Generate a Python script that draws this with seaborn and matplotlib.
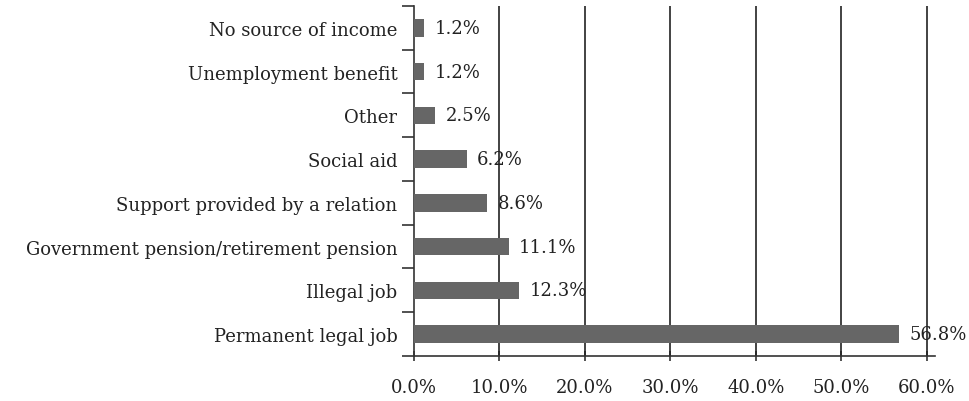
import matplotlib
matplotlib.use("Agg")
import matplotlib.pyplot as plt
import seaborn as sns
import pandas as pd
import numpy as np

sources = ["No source of income", "Unemployment benefit", "Other", "Social aid",
           "Support provided by a relation", "Government pension/retirement pension",
           "Illegal job", "Permanent legal job"]
shares = [1.2, 1.2, 2.5, 6.2, 8.6, 11.1, 12.3, 56.8]
xticks = [0, 10, 20, 30, 40, 50, 60]

df = pd.DataFrame({"source": sources, "share": shares})

sns.set_style("white")
plt.rcParams['font.family'] = ['DejaVu Serif']
fs = 13
txt = "#222222"

fig = plt.figure(figsize=(9.7, 4.02), dpi=100)
ax = fig.add_axes([0.4268, 0.112, 0.9640 - 0.4268, 0.9826 - 0.112])

sns.barplot(data=df, x="share", y="source", orient="h", color="#666666",
            saturation=1, width=0.4, linewidth=0, ax=ax, zorder=3)

ax.set_xlim(0, 61)
ax.set_ylim(len(sources) - 0.5, -0.5)
ax.set_xticks(xticks)
ax.set_xticklabels([f"{v:.1f}%" for v in xticks], fontsize=fs, color=txt)
ax.set_yticks(range(len(sources)))
ax.set_yticklabels(sources, fontsize=fs, color=txt)
ax.set_yticks(np.arange(-0.5, len(sources)), minor=True)
ax.tick_params(axis="y", which="major", left=True, length=0, pad=12)
ax.tick_params(axis="y", which="minor", left=True, length=9, width=1.2,
               color="#333333", direction="out")
ax.tick_params(axis="x", which="major", bottom=True, length=7, width=1.2,
               color="#333333", direction="inout", pad=12)
for v in xticks[1:]:
    ax.axvline(v, color="#222222", lw=1.2, zorder=1)
ax.set_xlabel("")
ax.set_ylabel("")
for s in ["top", "right"]:
    ax.spines[s].set_visible(False)
for s in ["left", "bottom"]:
    ax.spines[s].set_color("#333333")
    ax.spines[s].set_linewidth(1.2)

for i, v in enumerate(shares):
    ax.text(v + 1.2, i, f"{v:.1f}%", va="center", ha="left", fontsize=fs, color=txt, zorder=4)

fig.savefig("out.png", dpi=100)
